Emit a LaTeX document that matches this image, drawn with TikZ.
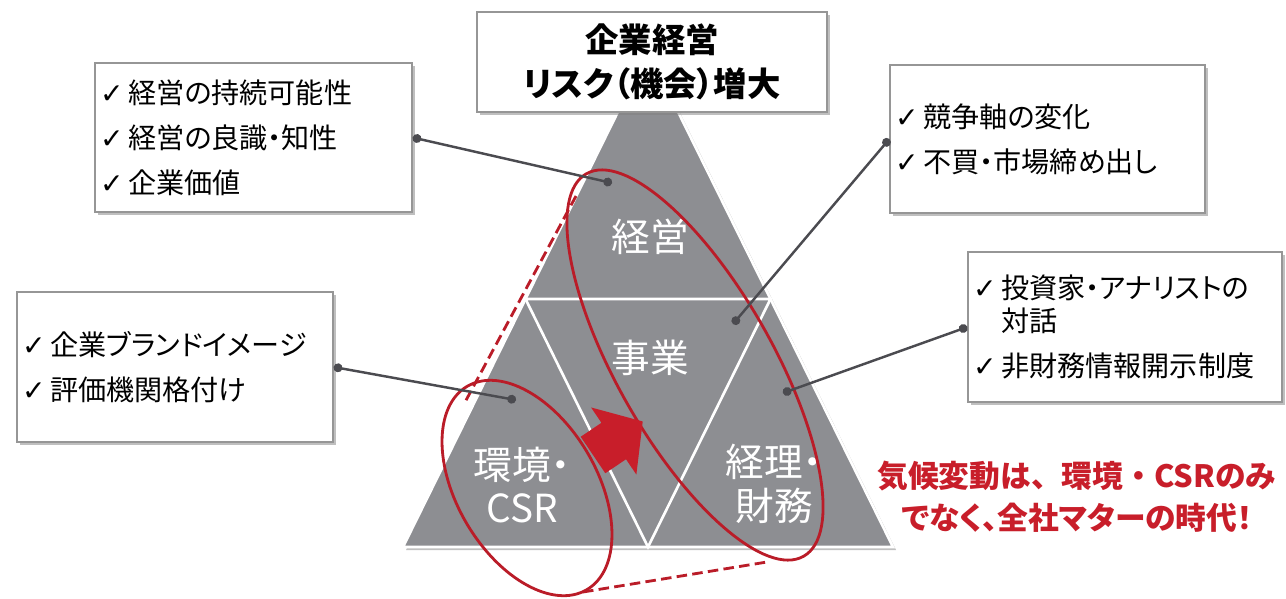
\documentclass[tikz,border=0pt]{standalone}
\usepackage{fontspec}
\setmainfont{Noto Sans CJK JP}[RawFeature=+palt]
\newfontfamily\widefont{Noto Sans CJK JP}
\newfontfamily\symfont{DejaVu Sans}
\usetikzlibrary{positioning, shadows, calc, arrows.meta}
\definecolor{trigray}{RGB}{141,142,146}
\definecolor{ringred}{RGB}{186,28,40}
\definecolor{alertred}{RGB}{200,30,42}
\definecolor{linkgray}{RGB}{75,75,80}
\definecolor{boxline}{RGB}{150,150,150}
\newcommand{\chk}{{\symfont ✓}\,}
\tikzset{
	x=0.02cm, y=-0.02cm,
	boxshadow/.style={drop shadow={shadow xshift=0.06cm, shadow yshift=-0.06cm, fill=black!50, opacity=0.5}},
	infobox/.style={draw=boxline, line width=0.8pt, fill=white, boxshadow, align=left, inner xsep=0.1cm, font=\fontsize{16}{25.5}\selectfont},
	region/.style={text=white, align=center, font=\fontsize{22}{25}\selectfont},
	link/.style={draw=linkgray, line width=1.4pt, {Circle[length=5pt]}-{Circle[length=5pt]}},
	ring/.style={draw=ringred, line width=1.6pt},
	zoomline/.style={draw=ringred, line width=1.6pt, dash pattern=on 6pt off 3pt},
}

\begin{document}
\begin{tikzpicture}
	\useasboundingbox (0,0) rectangle (1286,599);
	
	% pyramid
	\coordinate (apex) at (648,51);
	\coordinate (bl) at (403,547);
	\coordinate (br) at (893,547);
	\filldraw[fill=trigray, draw=white, line width=1.5pt, boxshadow] (apex) -- (bl) -- (br) -- cycle;
	\draw[white, line width=1.5pt] ($(apex)!0.5!(bl)$) -- ($(apex)!0.5!(br)$) -- ($(bl)!0.5!(br)$) -- cycle;
	
	\node[region] (keiei) at (650,237) {経営};
	\node[region] (jigyo) at (650,358) {事業};
	\node[region] (kankyo) at (522,485) {環境・\\CSR};
	\node[region] (keiri) at (774,484) {経理・\\財務};
	
	% rings and zoom lines
	\draw[ring, rotate around={-59.5:(527,488)}] (527,488) ellipse [x radius=2.36cm, y radius=1.4cm];
	\draw[ring, rotate around={-60.4:(695,365)}] (695,365) ellipse [x radius=4.4cm, y radius=1.56cm];
	\coordinate (bigTop) at (576,196);
	\coordinate (smallTop) at (464,404);
	\coordinate (smallBot) at (583,592);
	\coordinate (bigBot) at (767,562);
	\draw[zoomline] (bigTop) -- (smallTop);
	\draw[zoomline] (smallBot) -- (bigBot);
	
	\begin{scope}[shift={(593,455)}, rotate=34]
		\fill[alertred] (0cm,0.44cm) -- (0.5cm,0.44cm) -- (0.5cm,0.81cm) -- (1.2cm,0cm) -- (0.5cm,-0.81cm) -- (0.5cm,-0.44cm) -- (0cm,-0.44cm) -- cycle;
	\end{scope}
	
	% title and boxes
	\node[draw=boxline, line width=0.8pt, fill=white, boxshadow, minimum width=7cm, minimum height=2cm, align=center, font=\bfseries\fontsize{19}{25}\selectfont] (title) at (652,62) {企業経営\\リスク（機会）増大};
	
	\node[infobox, minimum width=6.34cm, minimum height=2.98cm, text width=6.14cm] (mgmtbox) at (253.5,137.5) {\chk 経営の持続可能性\\\chk 経営の良識・知性\\\chk 企業価値};
	\node[infobox, minimum width=6.3cm, minimum height=2.96cm, text width=6.1cm] (bizbox) at (1047.5,139) {\chk 競争軸の変化\\\chk 不買・市場締め出し};
	\node[infobox, minimum width=6.28cm, minimum height=3cm, text width=6.08cm] (finbox) at (1125,327) {\chk 投資家・アナリストの\\[-6.5pt]\phantom{\chk}対話\\\chk 非財務情報開示制度};
	\node[infobox, minimum width=6.32cm, minimum height=3cm, text width=6.12cm] (envbox) at (175,367) {\chk 企業ブランドイメージ\\\chk 評価機関格付け};
	
	\node[text=alertred, align=center, font=\bfseries\fontsize{17.5}{24}\selectfont] (slogan) at (1077,497) {{\widefont 気候変動は、環境・CSRのみ}\\でなく、全社マターの時代！};
	
	% connectors
	\coordinate (dotKeiei) at (612,183);
	\coordinate (dotJigyo) at (733,324);
	\coordinate (dotKeiri) at (783,393);
	\coordinate (dotKankyo) at (516,400);
	\draw[link] (mgmtbox.east) -- (dotKeiei);
	\draw[link] (bizbox.west) -- (dotJigyo);
	\draw[link] (finbox.west) -- (dotKeiri);
	\draw[link] (envbox.east) -- (dotKankyo);
	
\end{tikzpicture}
\end{document}
